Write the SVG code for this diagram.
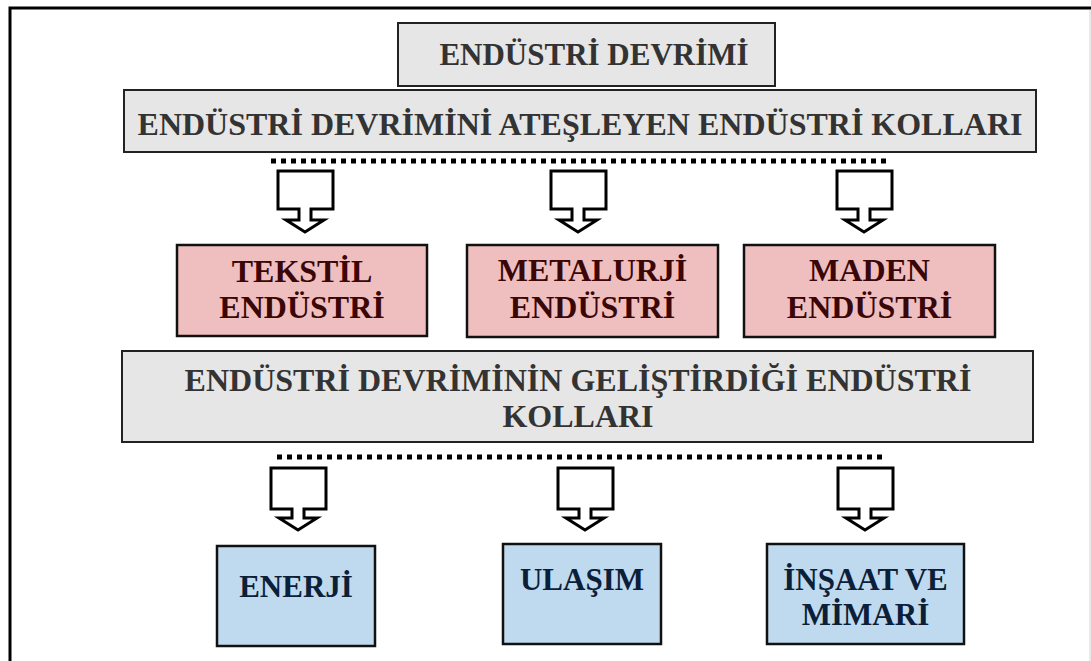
<svg xmlns="http://www.w3.org/2000/svg" width="1091" height="661" viewBox="0 0 1091 661">
<style>
text{font-family:"Liberation Serif","Times New Roman",serif;font-weight:bold;text-anchor:middle}
.gray rect{fill:#e6e6e6;stroke:#222;stroke-width:2}
.gray text{fill:#333;font-size:32px}
.pink rect{fill:#efbfbf;stroke:#111;stroke-width:2.5}
.pink text{fill:#3a0606;font-size:32px}
.blue rect{fill:#bfdaef;stroke:#111;stroke-width:2.5}
.blue text{fill:#0b2038;font-size:31px}
.dots{stroke:#000;stroke-width:5;stroke-dasharray:5 5;fill:none}
.arrow{fill:#fff;stroke:#000;stroke-width:3;stroke-linejoin:miter}
</style>
<rect width="1091" height="661" fill="#fff"/>
<path d="M10,661 V8 H1091" fill="none" stroke="#000" stroke-width="3"/>
<line x1="1090" y1="10" x2="1090" y2="661" stroke="#d4d4d4" stroke-width="1"/>

<g id="title" class="gray">
<rect x="398" y="23" width="377" height="63"/>
<text x="594" y="65" style="font-size:31px">ENDÜSTRİ DEVRİMİ</text>
</g>
<g id="ateşleyen" class="gray">
<rect x="124" y="90" width="912" height="62"/>
<text x="580" y="135">ENDÜSTRİ DEVRİMİNİ ATEŞLEYEN ENDÜSTRİ KOLLARI</text>
</g>

<g id="connectors">
<line class="dots" x1="271" y1="161" x2="890" y2="161"/>
<path class="arrow" d="M278,171 H333 V209 H311 V220 H324 L305,232 L286,220 H299 V209 H278 Z"/>
<path class="arrow" d="M551,171 H606 V209 H584 V220 H597 L578,232 L559,220 H572 V209 H551 Z"/>
<path class="arrow" d="M837,171 H892 V209 H870 V220 H883 L864,232 L845,220 H858 V209 H837 Z"/>
<line class="dots" x1="277" y1="457" x2="882" y2="457"/>
<path class="arrow" d="M271,468 H326 V509 H304 V518 H317 L298,530 L279,518 H292 V509 H271 Z"/>
<path class="arrow" d="M558,468 H613 V509 H591 V518 H604 L585,530 L566,518 H579 V509 H558 Z"/>
<path class="arrow" d="M838,468 H893 V509 H871 V518 H884 L865,530 L846,518 H859 V509 H838 Z"/>
</g>

<g id="tekstil" class="pink">
<rect x="177" y="245" width="250" height="91"/>
<text x="302" y="282">TEKSTİL</text>
<text x="302" y="318">ENDÜSTRİ</text>
</g>
<g id="metalurji" class="pink">
<rect x="467" y="245" width="251" height="92"/>
<text x="592.5" y="281">METALURJİ</text>
<text x="592.5" y="318">ENDÜSTRİ</text>
</g>
<g id="maden" class="pink">
<rect x="744" y="245" width="251" height="92"/>
<text x="869.5" y="281">MADEN</text>
<text x="869.5" y="318">ENDÜSTRİ</text>
</g>

<g id="geliştirdiği" class="gray">
<rect x="122" y="351" width="911" height="91"/>
<text x="578" y="391">ENDÜSTRİ DEVRİMİNİN GELİŞTİRDİĞİ ENDÜSTRİ</text>
<text x="578" y="427">KOLLARI</text>
</g>

<g id="enerji" class="blue">
<rect x="217" y="546" width="158" height="100"/>
<text x="296" y="597">ENERJİ</text>
</g>
<g id="ulaşım" class="blue">
<rect x="503" y="544" width="158" height="100"/>
<text x="582" y="590">ULAŞIM</text>
</g>
<g id="inşaat" class="blue">
<rect x="767" y="544" width="197" height="100"/>
<text x="865.5" y="590">İNŞAAT VE</text>
<text x="865.5" y="625">MİMARİ</text>
</g>
</svg>
